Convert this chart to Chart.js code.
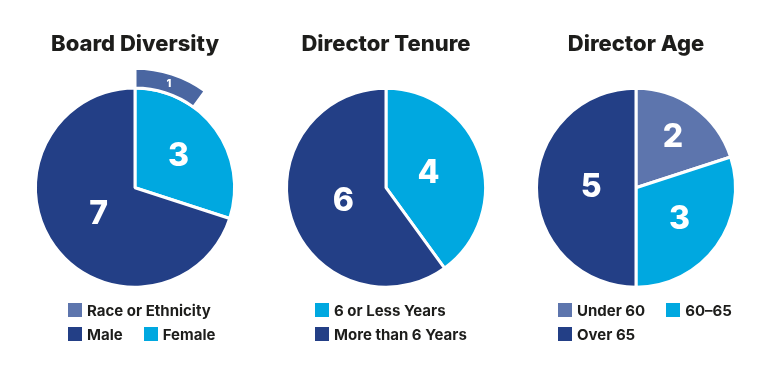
<!DOCTYPE html>
<html>
<head>
<meta charset="utf-8">
<script src="https://cdn.jsdelivr.net/npm/chart.js@4.4.1/dist/chart.umd.min.js"></script>
<style>
  html, body { margin: 0; padding: 0; background: #fff; }
  #wrap { position: relative; width: 770px; height: 381px; overflow: hidden; font-family: Inter, sans-serif; }
  .pie { position: absolute; top: 0; width: 250px; height: 308px; }
  .legend { position: absolute; top: 303px; display: flex; flex-wrap: wrap; column-gap: 21px; row-gap: 10px;
            font-weight: 700; font-size: 15px; color: #1d1d1b; }
  .item { display: flex; align-items: center; height: 14px; white-space: nowrap; }
  .swatch { width: 14px; height: 14px; margin-right: 5px; flex: none; }
</style>
</head>
<body>
<div id="wrap">
  <div class="pie" style="left:10px"><canvas id="boardChart"></canvas></div>
  <div class="pie" style="left:261px"><canvas id="tenureChart"></canvas></div>
  <div class="pie" style="left:511px"><canvas id="ageChart"></canvas></div>
  <div class="legend" id="boardLegend" style="left:68px;width:165px"></div>
  <div class="legend" id="tenureLegend" style="left:315px;width:165px"></div>
  <div class="legend" id="ageLegend" style="left:558px;width:185px"></div>
</div>
<script>
// data
const boardLabels = ['Female', 'Male'];
const boardValues = [3, 7];
const raceLabels = ['Race or Ethnicity'];
const raceValues = [1];

const tenureLabels = ['6 or Less Years', 'More than 6 Years'];
const tenureValues = [4, 6];

const ageLabels = ['Under 60', '60–65', 'Over 65'];
const ageValues = [2, 3, 5];

const navy = '#233f86';
const cyan = '#00a8e0';
const slate = '#5d75ad';
const raceBlue = '#4a66a1';
const FONT = 'Inter, sans-serif';

// white numbers inside the slices
const valueLabels = {
    id: 'valueLabels',
    afterDatasetsDraw(chart) {
        const ctx = chart.ctx;
        chart.data.datasets.forEach((ds, i) => {
            const meta = chart.getDatasetMeta(i);
            meta.data.forEach((arc, j) => {
                if (ds.labelMask && !ds.labelMask[j]) return;
                const p = arc.getProps(['x', 'y', 'startAngle', 'endAngle', 'innerRadius', 'outerRadius'], true);
                const mid = (p.startAngle + p.endAngle) / 2;
                const sweep = (p.endAngle - p.startAngle) * 180 / Math.PI;
                let d, size;
                if (p.innerRadius > 0) {
                    d = (p.innerRadius + p.outerRadius) / 2;
                    size = 11;
                } else {
                    d = p.outerRadius * Math.max(0.45, 0.63 - 0.0025 * (sweep - 72));
                    size = 32;
                }
                ctx.save();
                ctx.fillStyle = '#fff';
                ctx.font = `800 ${size}px ${FONT}`;
                ctx.textAlign = 'center';
                ctx.textBaseline = 'middle';
                ctx.fillText(String(ds.data[j]), p.x + Math.cos(mid) * d, p.y + Math.sin(mid) * d);
                ctx.restore();
            });
        });
    }
};

function pieOptions(title, radius) {
    return {
        responsive: true,
        maintainAspectRatio: false,
        animation: false,
        radius: radius,
        layout: { padding: 0 },
        elements: { arc: { borderColor: '#fff', borderWidth: 3 } },
        plugins: {
            legend: { display: false },
            tooltip: { enabled: false },
            title: {
                display: true,
                text: title,
                color: '#1d1d1b',
                font: { family: FONT, size: 22, weight: '800' },
                padding: { top: 31, bottom: 10 }
            }
        }
    };
}

function buildLegend(id, labels, colors) {
    const box = document.getElementById(id);
    labels.forEach((label, i) => {
        const item = document.createElement('div');
        item.className = 'item';
        item.innerHTML = `<span class="swatch" style="background:${colors[i]}"></span><span>${label}</span>`;
        box.appendChild(item);
    });
}

const boardTotal = boardValues.reduce((a, b) => a + b, 0);

new Chart(document.getElementById('boardChart'), {
    type: 'pie',
    data: {
        labels: boardLabels,
        datasets: [
            {
                data: [raceValues[0], boardTotal - raceValues[0]],
                backgroundColor: [raceBlue, 'rgba(0,0,0,0)'],
                borderWidth: [3, 0],
                weight: 20,
                clip: false,
                labelMask: [true, false]
            },
            {
                data: boardValues,
                backgroundColor: [cyan, navy],
                weight: 100,
                clip: false
            }
        ]
    },
    options: pieOptions('Board Diversity', 119.5),
    plugins: [valueLabels]
});

new Chart(document.getElementById('tenureChart'), {
    type: 'pie',
    data: {
        labels: tenureLabels,
        datasets: [{ data: tenureValues, backgroundColor: [cyan, navy], clip: false }]
    },
    options: pieOptions('Director Tenure', 99.5),
    plugins: [valueLabels]
});

new Chart(document.getElementById('ageChart'), {
    type: 'pie',
    data: {
        labels: ageLabels,
        datasets: [{ data: ageValues, backgroundColor: [slate, cyan, navy], clip: false }]
    },
    options: pieOptions('Director Age', 99.5),
    plugins: [valueLabels]
});

buildLegend('boardLegend', [raceLabels[0], boardLabels[1], boardLabels[0]], [slate, navy, cyan]);
buildLegend('tenureLegend', tenureLabels, [cyan, navy]);
buildLegend('ageLegend', ageLabels, [slate, cyan, navy]);
</script>
</body>
</html>
